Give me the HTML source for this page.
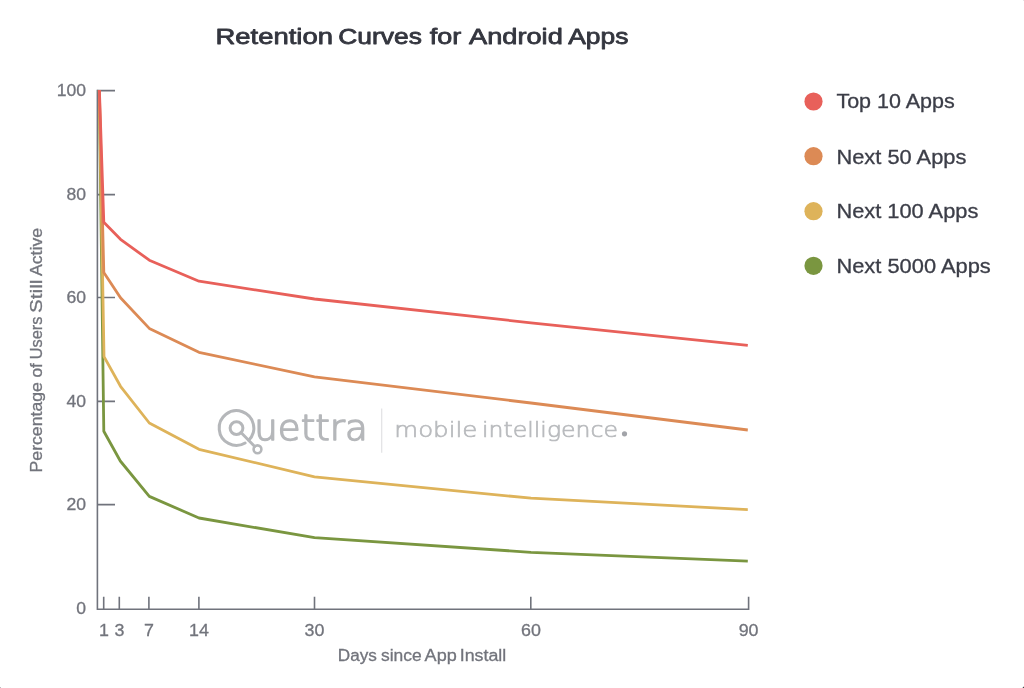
<!DOCTYPE html>
<html lang="en">
<head>
<meta charset="utf-8">
<title>Retention Curves for Android Apps</title>
<style>
  html, body { margin: 0; padding: 0; background: #ffffff; }
  body { width: 1024px; height: 688px; overflow: hidden; }
  svg { display: block; filter: blur(0.45px); font-family: "Liberation Sans", sans-serif; }
  .title { font-size: 22.6px; fill: #34363f; stroke: #34363f; stroke-width: 0.8px; stroke-linejoin: round; }
  .lg { font-size: 19.6px; fill: #3c3e48; stroke: #3c3e48; stroke-width: 0.3px; }
  .ax { font-size: 16px; fill: #72747c; stroke: #72747c; stroke-width: 0.3px; }
  .tick { font-size: 17px; fill: #72747c; stroke: #72747c; stroke-width: 0.3px; }
  .axis { stroke: #70737c; stroke-width: 1.6; fill: none; }
  .ln { fill: none; stroke-width: 2.8; stroke-linejoin: round; stroke-linecap: butt; }
  .wm1 { font-family: "DejaVu Sans", "Liberation Sans", sans-serif; font-weight: 200; font-size: 36px; fill: #b5b7ba; stroke: #b5b7ba; stroke-width: 1.5px; stroke-linejoin: round; }
  .wm2 { font-family: "DejaVu Sans", "Liberation Sans", sans-serif; font-weight: 200; font-size: 22px; fill: #b9bbbe; stroke: #b9bbbe; stroke-width: 0.7px; }
</style>
</head>
<body>
<svg width="1024" height="688" viewBox="0 0 1024 688">
  <rect width="1024" height="688" fill="#ffffff"/>

  <rect x="1023" y="687" width="1" height="1" fill="#4a4b50"/>
  <rect x="1022" y="687" width="1" height="1" fill="#d8d8da"/>
  <rect x="1023" y="686" width="1" height="1" fill="#d8d8da"/>
  <rect x="0" y="687" width="1" height="1" fill="#bdbdbf"/>
  <rect x="1023" y="0" width="1" height="1" fill="#e6e6e7"/>

  <!-- title -->
  <text class="title" y="44">
    <tspan x="215.4" textLength="117.6" lengthAdjust="spacingAndGlyphs">Retention</tspan>
    <tspan x="338.3" textLength="83.6" lengthAdjust="spacingAndGlyphs">Curves</tspan>
    <tspan x="429.7" textLength="31.5" lengthAdjust="spacingAndGlyphs">for</tspan>
    <tspan x="469" textLength="93.8" lengthAdjust="spacingAndGlyphs">Android</tspan>
    <tspan x="568.2" textLength="60.2" lengthAdjust="spacingAndGlyphs">Apps</tspan>
  </text>

  <!-- watermark -->
  <g id="wm" role="img" aria-label="Quettra" fill="none" stroke="#b5b7ba" stroke-linecap="round">
    <title>Quettra</title>
    <path d="M245.15 442.98 A17.3 17.3 0 1 1 248.73 440.23" stroke-width="3"/>
    <circle cx="236.5" cy="428.1" r="6.4" stroke-width="3"/>
    <line x1="241" y1="432.4" x2="254.7" y2="446.5" stroke-width="2.9"/>
    <circle cx="257.5" cy="449.3" r="3.9" stroke-width="2.6"/>
  </g>
  <text class="wm1" x="254.3" y="439.7" textLength="113.4" lengthAdjust="spacingAndGlyphs">uettra</text>
  <line x1="381.7" y1="408.5" x2="381.7" y2="452.8" stroke="#e1e2e4" stroke-width="1.2"/>
  <text class="wm2" y="436.7">
    <tspan x="394.3" textLength="83" lengthAdjust="spacingAndGlyphs">mobile</tspan>
    <tspan x="482" textLength="136" lengthAdjust="spacingAndGlyphs">intelligence</tspan>
  </text>
  <circle cx="624.5" cy="433.8" r="2.6" fill="#a2a4a9"/>

  <!-- axes -->
  <path class="axis" d="M97.4 89.8 V609.3 H748.6 V596.7"/>
  <path class="axis" d="M97.4 90.6 H115 M97.4 194.6 H115 M97.4 297.5 H115 M97.4 401.4 H115 M97.4 504.6 H115"/>
  <path class="axis" d="M103.7 596.7 V609.3 M119.3 596.7 V609.3 M148.9 596.7 V609.3 M198.9 596.7 V609.3 M314.5 596.7 V609.3 M530.8 596.7 V609.3"/>

  <!-- y tick labels -->
  <g class="tick" text-anchor="end" transform="translate(86 0) scale(1.035 1)">
    <text x="0" y="96">100</text>
    <text x="0" y="199.8">80</text>
    <text x="0" y="302.8">60</text>
    <text x="0" y="406.9">40</text>
    <text x="0" y="509.8">20</text>
    <text x="0" y="613.9">0</text>
  </g>
  <!-- x tick labels -->
  <g class="tick" text-anchor="middle">
    <text transform="translate(104 636.4) scale(1.05 1)">1</text>
    <text transform="translate(119.5 636.4) scale(1.05 1)">3</text>
    <text transform="translate(149 636.4) scale(1.05 1)">7</text>
    <text transform="translate(199 636.4) scale(1.05 1)">14</text>
    <text transform="translate(314.5 636.4) scale(1.05 1)">30</text>
    <text transform="translate(531 636.4) scale(1.05 1)">60</text>
    <text transform="translate(748.6 636.4) scale(1.05 1)">90</text>
  </g>

  <!-- axis titles -->
  <text class="ax" y="660.6">
    <tspan x="337.8" textLength="39" lengthAdjust="spacingAndGlyphs">Days</tspan>
    <tspan x="381" textLength="40.7" lengthAdjust="spacingAndGlyphs">since</tspan>
    <tspan x="424.6" textLength="32.1" lengthAdjust="spacingAndGlyphs">App</tspan>
    <tspan x="459.7" textLength="46.5" lengthAdjust="spacingAndGlyphs">Install</tspan>
  </text>
  <text class="ax" transform="translate(41.7 471.3) rotate(-90)" y="0">
    <tspan x="-1.1" textLength="90.2" lengthAdjust="spacingAndGlyphs">Percentage</tspan>
    <tspan x="93.7" textLength="14.5" lengthAdjust="spacingAndGlyphs">of</tspan>
    <tspan x="112" textLength="42.8" lengthAdjust="spacingAndGlyphs">Users</tspan>
    <tspan x="158.4" textLength="33.3" lengthAdjust="spacingAndGlyphs">Still</tspan>
    <tspan x="195.3" textLength="48.1" lengthAdjust="spacingAndGlyphs">Active</tspan>
  </text>

  <!-- data lines -->
  <polyline class="ln" stroke="#7a9640" points="99.3,90 103.8,431.3 120.3,461 149.3,496.4 199,518 314.5,537.7 531,552.3 747.8,561.1"/>
  <polyline class="ln" stroke="#deb35a" points="99.3,90 104,356.6 120.5,386.3 149.3,423 199,449.3 314.5,476.8 531,498.2 747.8,509.7"/>
  <polyline class="ln" stroke="#dc8a55" points="99.3,90 103.8,272.4 120.5,297.7 149.3,328.4 199,352.3 314.5,376.9 531,403 747.8,430"/>
  <polyline class="ln" stroke="#e8605a" points="99.4,90 103.8,222.3 120.5,239.3 149.3,260.2 199,281.2 314.5,299 531,322.8 747.8,345.3"/>

  <!-- legend -->
  <circle cx="813.5" cy="101.5" r="9.1" fill="#e8605a"/>
  <circle cx="813.5" cy="156.2" r="9.1" fill="#dc8a55"/>
  <circle cx="813.5" cy="211.2" r="9.1" fill="#deb35a"/>
  <circle cx="813.5" cy="265.8" r="9.1" fill="#7a9640"/>
  <text class="lg" x="836.4" y="108.2" textLength="118.4" lengthAdjust="spacingAndGlyphs">Top 10 Apps</text>
  <text class="lg" x="836.4" y="163.5" textLength="130" lengthAdjust="spacingAndGlyphs">Next 50 Apps</text>
  <text class="lg" x="836.4" y="218.1" textLength="142" lengthAdjust="spacingAndGlyphs">Next 100 Apps</text>
  <text class="lg" x="836.4" y="272.6" textLength="154.4" lengthAdjust="spacingAndGlyphs">Next 5000 Apps</text>
</svg>
</body>
</html>
